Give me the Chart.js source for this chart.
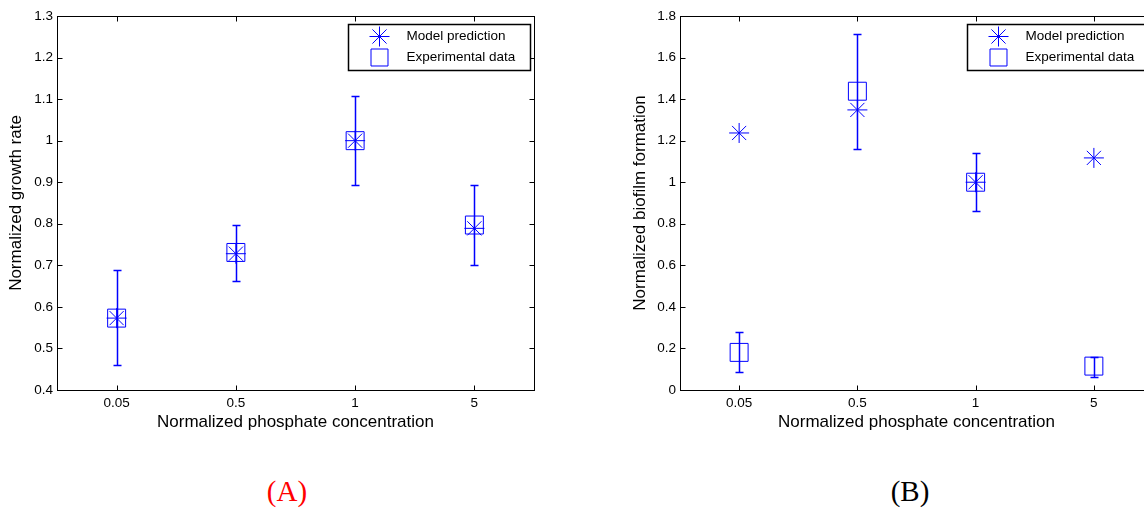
<!DOCTYPE html>
<html>
<head>
<meta charset="utf-8">
<script src="https://cdn.jsdelivr.net/npm/chart.js@4.4.1/dist/chart.umd.min.js"></script>
<style>
  body { margin: 0; background: #fff; overflow: hidden; }
  #wrap { position: relative; width: 1144px; height: 508px; overflow: hidden; }
  canvas { position: absolute; top: 0; }
  .panel { position: absolute; top: 477px; font-family: 'Liberation Serif', 'Times New Roman', serif;
           font-size: 29px; line-height: 29px; transform: translateX(-50%); white-space: nowrap; }
</style>
</head>
<body>
<div id="wrap">
  <canvas id="chart-a" width="560" height="440" style="left:0px"></canvas>
  <canvas id="chart-b" width="560" height="440" style="left:620px"></canvas>
  <div class="panel" style="left:287px; color:#ff0000">(A)</div>
  <div class="panel" style="left:910px; color:#000000">(B)</div>
</div>
<script>
// ===================================
// DATA
// ===================================
const categories = ["0.05", "0.5", "1", "5"];

// (A) growth rate
const growthModel = [0.573, 0.728, 1.0, 0.789];
const growthExp = [0.573, 0.731, 1.0, 0.797];
const growthErrLow = [0.459, 0.662, 0.894, 0.702];
const growthErrHigh = [0.688, 0.797, 1.107, 0.894];
const growthTicks = [0.4, 0.5, 0.6, 0.7, 0.8, 0.9, 1.0, 1.1, 1.2, 1.3];
const growthTickLabels = ["0.4", "0.5", "0.6", "0.7", "0.8", "0.9", "1", "1.1", "1.2", "1.3"];

// (B) biofilm formation
const biofilmModel = [1.237, 1.348, 1.0, 1.117];
const biofilmExp = [0.181, 1.438, 1.0, 0.115];
const biofilmErrLow = [0.088, 1.161, 0.862, 0.064];
const biofilmErrHigh = [0.277, 1.713, 1.139, 0.161];
const biofilmTicks = [0, 0.2, 0.4, 0.6, 0.8, 1.0, 1.2, 1.4, 1.6, 1.8];
const biofilmTickLabels = ["0", "0.2", "0.4", "0.6", "0.8", "1", "1.2", "1.4", "1.6", "1.8"];

const legendLabels = ["Model prediction", "Experimental data"];

const BLUE = "#0000ff";
const FONT = "'Liberation Sans', Arial, sans-serif";

Chart.defaults.font.family = FONT;
Chart.defaults.color = "#000000";

function toPoints(values) {
  return values.map((v, i) => ({ x: i + 1, y: v }));
}

// error bars, inward ticks, box frame and legend drawn like matlab
const matlabFrame = {
  id: "matlabFrame",
  afterDatasetsDraw(chart, args, opts) {
    const ctx = chart.ctx;
    const xs = chart.scales.x;
    const ys = chart.scales.y;
    ctx.save();
    ctx.strokeStyle = BLUE;
    ctx.lineWidth = 1.5;
    ctx.beginPath();
    opts.low.forEach((lo, i) => {
      const x = Math.round(xs.getPixelForValue(i + 1)) + 0.5;
      const y1 = Math.round(ys.getPixelForValue(lo)) + 0.5;
      const y2 = Math.round(ys.getPixelForValue(opts.high[i])) + 0.5;
      ctx.moveTo(x, y1);
      ctx.lineTo(x, y2);
      ctx.moveTo(x - 4, y1);
      ctx.lineTo(x + 4, y1);
      ctx.moveTo(x - 4, y2);
      ctx.lineTo(x + 4, y2);
    });
    ctx.stroke();
    ctx.restore();
  },
  afterDraw(chart, args, opts) {
    const ctx = chart.ctx;
    const a = chart.chartArea;
    const xs = chart.scales.x;
    const ys = chart.scales.y;
    const L = Math.round(a.left) + 0.5;
    const R = Math.round(a.right) + 0.5;
    const T = Math.round(a.top) + 0.5;
    const B = Math.round(a.bottom) + 0.5;
    ctx.save();
    ctx.strokeStyle = "#000000";
    ctx.lineWidth = 1;
    ctx.strokeRect(L, T, R - L, B - T);
    ctx.beginPath();
    ys.ticks.forEach((t) => {
      const y = Math.round(ys.getPixelForValue(t.value)) + 0.5;
      ctx.moveTo(L, y);
      ctx.lineTo(L + 5, y);
      ctx.moveTo(R, y);
      ctx.lineTo(R - 5, y);
    });
    xs.ticks.forEach((t) => {
      const x = Math.round(xs.getPixelForValue(t.value)) + 0.5;
      ctx.moveTo(x, B);
      ctx.lineTo(x, B - 5);
      ctx.moveTo(x, T);
      ctx.lineTo(x, T + 5);
    });
    ctx.stroke();

    // legend box
    const bw = 182, bh = 46;
    const bx = Math.round(a.right - 4 - bw) + 0.5;
    const by = Math.round(a.top + 8) + 0.5;
    ctx.fillStyle = "#ffffff";
    ctx.fillRect(bx, by, bw, bh);
    ctx.lineWidth = 1.5;
    ctx.strokeRect(bx, by, bw, bh);

    ctx.lineWidth = 1;
    ctx.strokeStyle = BLUE;
    ctx.fillStyle = "rgba(0,0,0,0)";
    Chart.helpers.drawPoint(ctx, { pointStyle: "star", radius: 10, rotation: 0, borderWidth: 1 }, bx + 31, by + 12);
    Chart.helpers.drawPoint(ctx, { pointStyle: "rect", radius: 12, rotation: 0, borderWidth: 1 }, bx + 31, by + 33);

    ctx.fillStyle = "#000000";
    ctx.font = "13.5px " + FONT;
    ctx.textBaseline = "middle";
    ctx.textAlign = "left";
    ctx.fillText(legendLabels[0], bx + 58, by + 12);
    ctx.fillText(legendLabels[1], bx + 58, by + 33);
    ctx.restore();
  },
};

function makeChart(id, cfg) {
  const ctx = document.getElementById(id).getContext("2d");
  return new Chart(ctx, {
    type: "scatter",
    data: {
      datasets: [
        {
          label: legendLabels[0],
          data: toPoints(cfg.model),
          pointStyle: "star",
          pointRadius: 10,
          pointBorderWidth: 1,
          borderColor: BLUE,
          backgroundColor: "transparent",
        },
        {
          label: legendLabels[1],
          data: toPoints(cfg.exp),
          pointStyle: "rect",
          pointRadius: 12.7,
          pointBorderWidth: 1,
          borderColor: BLUE,
          backgroundColor: "transparent",
        },
      ],
    },
    options: {
      responsive: false,
      animation: false,
      devicePixelRatio: 1,
      layout: { padding: { top: 16, right: cfg.padRight, bottom: 0, left: 0 } },
      plugins: {
        legend: { display: false },
        tooltip: { enabled: false },
        matlabFrame: { low: cfg.low, high: cfg.high },
      },
      scales: {
        x: {
          type: "linear",
          min: 0.5,
          max: 4.5,
          grid: { display: false, drawTicks: false },
          border: { display: false },
          afterBuildTicks: (s) => {
            s.ticks = categories.map((c, i) => ({ value: i + 1 }));
          },
          afterFit: (s) => {
            s.height = 50;
          },
          ticks: {
            font: { size: 13.5 },
            padding: 5,
            maxRotation: 0,
            callback: (v, i) => categories[i],
          },
          title: {
            display: true,
            text: "Normalized phosphate concentration",
            font: { size: 17 },
            padding: { top: 0, bottom: 7 },
          },
        },
        y: {
          min: cfg.ticks[0],
          max: cfg.ticks[cfg.ticks.length - 1],
          grid: { display: false, drawTicks: false },
          border: { display: false },
          afterBuildTicks: (s) => {
            s.ticks = cfg.ticks.map((v) => ({ value: v }));
          },
          afterFit: (s) => {
            s.width = cfg.axisWidth;
          },
          ticks: {
            font: { size: 13.5 },
            padding: 4,
            callback: (v, i) => cfg.tickLabels[i],
          },
          title: {
            display: true,
            text: cfg.yTitle,
            font: { size: 17 },
            padding: { top: cfg.titlePad, bottom: 0 },
          },
        },
      },
    },
    plugins: [matlabFrame],
  });
}

makeChart("chart-a", {
  model: growthModel,
  exp: growthExp,
  low: growthErrLow,
  high: growthErrHigh,
  ticks: growthTicks,
  tickLabels: growthTickLabels,
  yTitle: "Normalized growth rate",
  axisWidth: 57,
  padRight: 26,
  titlePad: 6,
});

makeChart("chart-b", {
  model: biofilmModel,
  exp: biofilmExp,
  low: biofilmErrLow,
  high: biofilmErrHigh,
  ticks: biofilmTicks,
  tickLabels: biofilmTickLabels,
  yTitle: "Normalized biofilm formation",
  axisWidth: 60,
  padRight: 27,
  titlePad: 10,
});
</script>
</body>
</html>
